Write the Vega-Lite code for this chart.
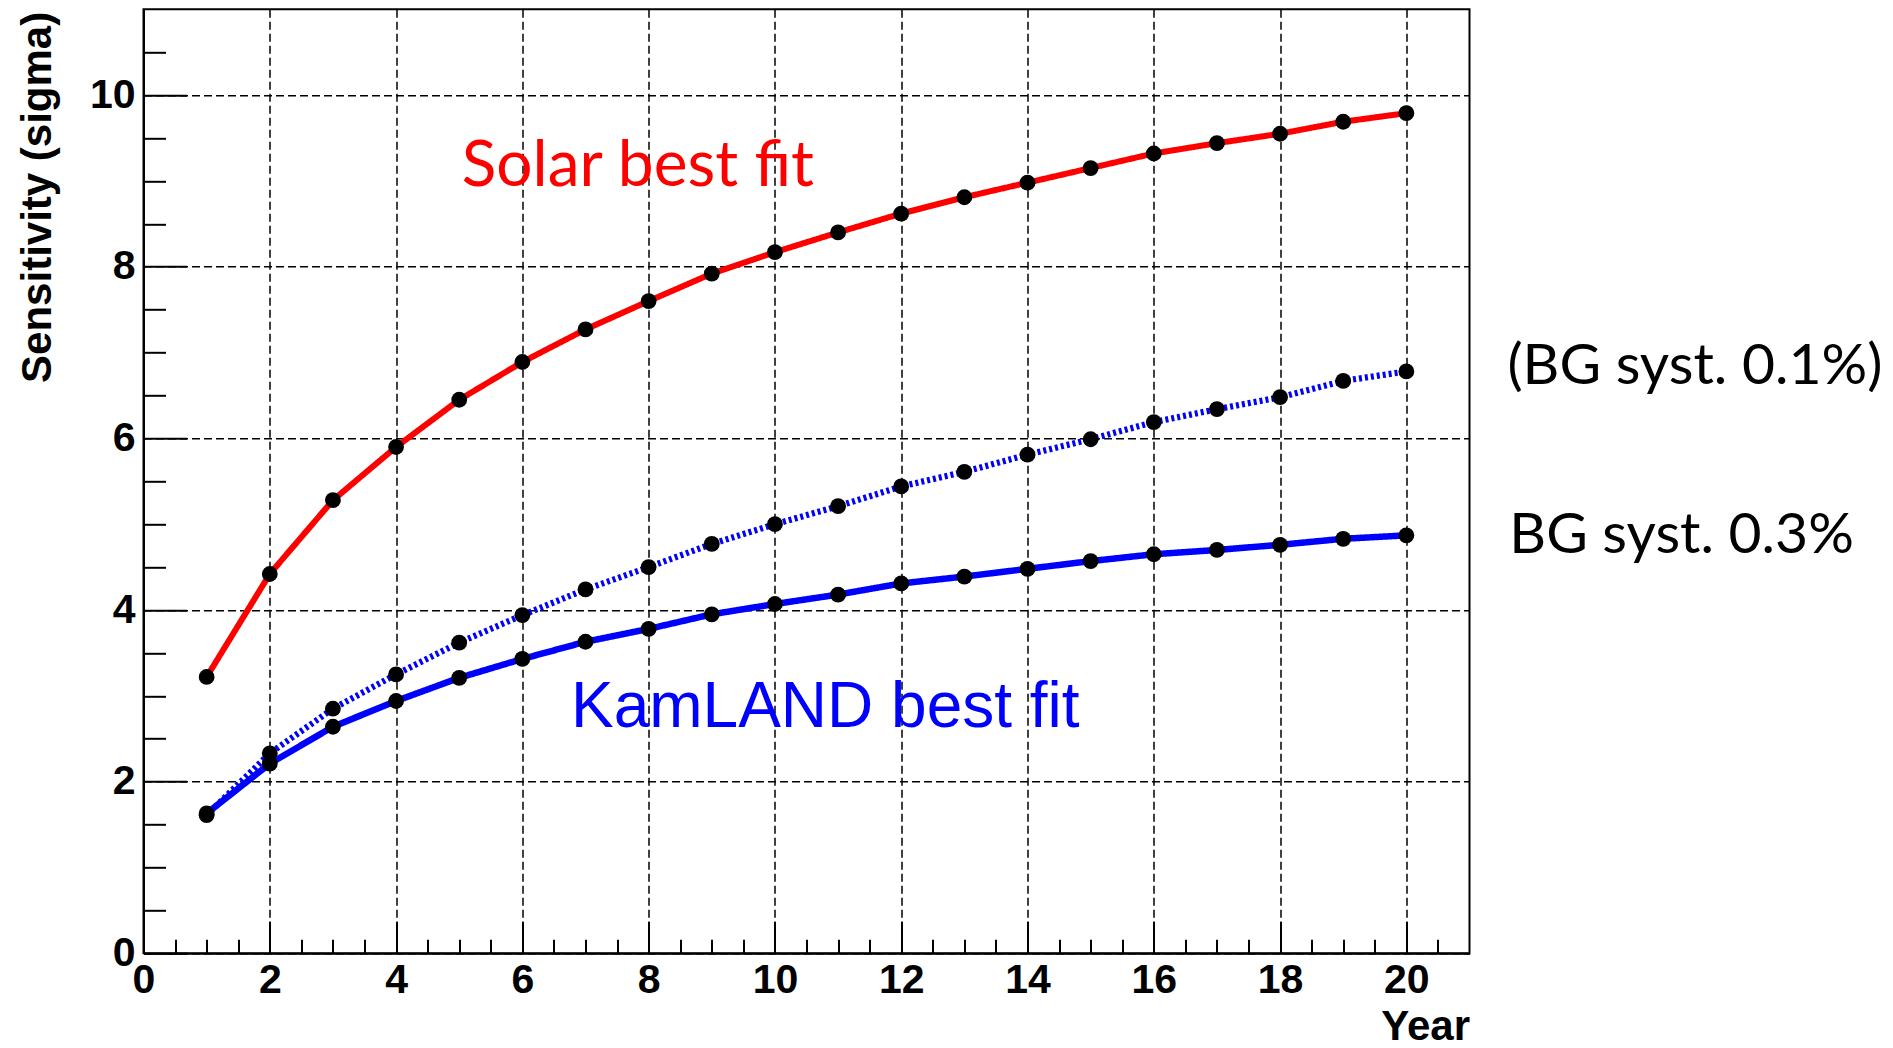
{
  "$schema": "https://vega.github.io/schema/vega-lite/v6.json",
  "width": 1326,
  "height": 944,
  "autosize": "none",
  "padding": {"left": 143.5, "top": 9.3, "right": 423.5, "bottom": 94.7},
  "background": "white",
  "config": {
    "view": {"stroke": "black", "strokeWidth": 2},
    "axis": {
      "domainColor": "black",
      "domainWidth": 2,
      "tickColor": "black",
      "tickWidth": 2,
      "gridColor": "black",
      "gridWidth": 1.5,
      "gridDash": [8, 4],
      "labelFont": "Liberation Sans",
      "labelFontWeight": "bold",
      "labelColor": "black",
      "titleFont": "Liberation Sans",
      "titleFontWeight": "bold",
      "titleColor": "black"
    }
  },
  "datasets": {
    "sensitivity": [
      {"series": "Solar best fit", "year": 1, "sigma": 3.22},
      {"series": "Solar best fit", "year": 2, "sigma": 4.42},
      {"series": "Solar best fit", "year": 3, "sigma": 5.28},
      {"series": "Solar best fit", "year": 4, "sigma": 5.90},
      {"series": "Solar best fit", "year": 5, "sigma": 6.45},
      {"series": "Solar best fit", "year": 6, "sigma": 6.89},
      {"series": "Solar best fit", "year": 7, "sigma": 7.27},
      {"series": "Solar best fit", "year": 8, "sigma": 7.60},
      {"series": "Solar best fit", "year": 9, "sigma": 7.92},
      {"series": "Solar best fit", "year": 10, "sigma": 8.17},
      {"series": "Solar best fit", "year": 11, "sigma": 8.40},
      {"series": "Solar best fit", "year": 12, "sigma": 8.62},
      {"series": "Solar best fit", "year": 13, "sigma": 8.81},
      {"series": "Solar best fit", "year": 14, "sigma": 8.98},
      {"series": "Solar best fit", "year": 15, "sigma": 9.15},
      {"series": "Solar best fit", "year": 16, "sigma": 9.32},
      {"series": "Solar best fit", "year": 17, "sigma": 9.44},
      {"series": "Solar best fit", "year": 18, "sigma": 9.55},
      {"series": "Solar best fit", "year": 19, "sigma": 9.69},
      {"series": "Solar best fit", "year": 20, "sigma": 9.79},
      {"series": "KamLAND, BG syst. 0.1%", "year": 1, "sigma": 1.61},
      {"series": "KamLAND, BG syst. 0.1%", "year": 2, "sigma": 2.33},
      {"series": "KamLAND, BG syst. 0.1%", "year": 3, "sigma": 2.85},
      {"series": "KamLAND, BG syst. 0.1%", "year": 4, "sigma": 3.25},
      {"series": "KamLAND, BG syst. 0.1%", "year": 5, "sigma": 3.62},
      {"series": "KamLAND, BG syst. 0.1%", "year": 6, "sigma": 3.94},
      {"series": "KamLAND, BG syst. 0.1%", "year": 7, "sigma": 4.24},
      {"series": "KamLAND, BG syst. 0.1%", "year": 8, "sigma": 4.50},
      {"series": "KamLAND, BG syst. 0.1%", "year": 9, "sigma": 4.77},
      {"series": "KamLAND, BG syst. 0.1%", "year": 10, "sigma": 5.00},
      {"series": "KamLAND, BG syst. 0.1%", "year": 11, "sigma": 5.21},
      {"series": "KamLAND, BG syst. 0.1%", "year": 12, "sigma": 5.44},
      {"series": "KamLAND, BG syst. 0.1%", "year": 13, "sigma": 5.61},
      {"series": "KamLAND, BG syst. 0.1%", "year": 14, "sigma": 5.81},
      {"series": "KamLAND, BG syst. 0.1%", "year": 15, "sigma": 5.99},
      {"series": "KamLAND, BG syst. 0.1%", "year": 16, "sigma": 6.19},
      {"series": "KamLAND, BG syst. 0.1%", "year": 17, "sigma": 6.34},
      {"series": "KamLAND, BG syst. 0.1%", "year": 18, "sigma": 6.48},
      {"series": "KamLAND, BG syst. 0.1%", "year": 19, "sigma": 6.67},
      {"series": "KamLAND, BG syst. 0.1%", "year": 20, "sigma": 6.78},
      {"series": "KamLAND, BG syst. 0.3%", "year": 1, "sigma": 1.63},
      {"series": "KamLAND, BG syst. 0.3%", "year": 2, "sigma": 2.21},
      {"series": "KamLAND, BG syst. 0.3%", "year": 3, "sigma": 2.64},
      {"series": "KamLAND, BG syst. 0.3%", "year": 4, "sigma": 2.94},
      {"series": "KamLAND, BG syst. 0.3%", "year": 5, "sigma": 3.21},
      {"series": "KamLAND, BG syst. 0.3%", "year": 6, "sigma": 3.43},
      {"series": "KamLAND, BG syst. 0.3%", "year": 7, "sigma": 3.63},
      {"series": "KamLAND, BG syst. 0.3%", "year": 8, "sigma": 3.78},
      {"series": "KamLAND, BG syst. 0.3%", "year": 9, "sigma": 3.95},
      {"series": "KamLAND, BG syst. 0.3%", "year": 10, "sigma": 4.07},
      {"series": "KamLAND, BG syst. 0.3%", "year": 11, "sigma": 4.18},
      {"series": "KamLAND, BG syst. 0.3%", "year": 12, "sigma": 4.31},
      {"series": "KamLAND, BG syst. 0.3%", "year": 13, "sigma": 4.39},
      {"series": "KamLAND, BG syst. 0.3%", "year": 14, "sigma": 4.48},
      {"series": "KamLAND, BG syst. 0.3%", "year": 15, "sigma": 4.57},
      {"series": "KamLAND, BG syst. 0.3%", "year": 16, "sigma": 4.65},
      {"series": "KamLAND, BG syst. 0.3%", "year": 17, "sigma": 4.70},
      {"series": "KamLAND, BG syst. 0.3%", "year": 18, "sigma": 4.76},
      {"series": "KamLAND, BG syst. 0.3%", "year": 19, "sigma": 4.83},
      {"series": "KamLAND, BG syst. 0.3%", "year": 20, "sigma": 4.87}
    ]
  },
  "resolve": {"axis": {"x": "independent", "y": "independent"}},
  "layer": [
    {
      "data": {"name": "sensitivity"},
      "mark": {"type": "line", "clip": true},
      "encoding": {
        "x": {
          "field": "year",
          "type": "quantitative",
          "scale": {"domain": [0, 21], "nice": false, "zero": false},
          "axis": {
            "orient": "bottom",
            "title": "Year",
            "titleFontSize": 42,
            "titleAlign": "right",
            "titleBaseline": "alphabetic",
            "titleAnchor": "end",
            "titleX": 1326,
            "titleY": 86,
            "values": [0, 2, 4, 6, 8, 10, 12, 14, 16, 18, 20],
            "format": ".0f",
            "labelFontSize": 41,
            "labelOverlap": false,
            "labelFlush": false,
            "labelPadding": 39,
            "tickSize": -32
          }
        },
        "y": {
          "field": "sigma",
          "type": "quantitative",
          "scale": {"domain": [0, 11], "nice": false, "zero": false},
          "axis": {
            "orient": "left",
            "title": "Sensitivity (sigma)",
            "titleFontSize": 42,
            "titleAngle": -90,
            "titleAlign": "right",
            "titleBaseline": "alphabetic",
            "titleX": -93,
            "titleY": 2,
            "values": [0, 2, 4, 6, 8, 10],
            "format": ".0f",
            "labelFontSize": 41,
            "labelOverlap": false,
            "labelFlush": false,
            "labelPadding": 51.5,
            "tickSize": -43
          }
        },
        "detail": {"field": "series"},
        "color": {
          "field": "series",
          "type": "nominal",
          "scale": {
            "domain": ["Solar best fit", "KamLAND, BG syst. 0.1%", "KamLAND, BG syst. 0.3%"],
            "range": ["#ff0000", "#0000ff", "#0000ff"]
          },
          "legend": null
        },
        "strokeDash": {
          "field": "series",
          "type": "nominal",
          "scale": {
            "domain": ["Solar best fit", "KamLAND, BG syst. 0.1%", "KamLAND, BG syst. 0.3%"],
            "range": [[1, 0], [3, 3], [1, 0]]
          },
          "legend": null
        },
        "strokeWidth": {
          "field": "series",
          "type": "nominal",
          "scale": {
            "domain": ["Solar best fit", "KamLAND, BG syst. 0.1%", "KamLAND, BG syst. 0.3%"],
            "range": [6, 6.5, 7]
          },
          "legend": null
        }
      }
    },
    {
      "data": {"name": "sensitivity"},
      "mark": {"type": "circle", "color": "black", "opacity": 1, "size": 250},
      "encoding": {
        "x": {
          "field": "year",
          "type": "quantitative",
          "axis": {
            "orient": "bottom",
            "title": null,
            "values": [0.5, 1, 1.5, 2.5, 3, 3.5, 4.5, 5, 5.5, 6.5, 7, 7.5, 8.5, 9, 9.5, 10.5, 11, 11.5, 12.5, 13, 13.5, 14.5, 15, 15.5, 16.5, 17, 17.5, 18.5, 19, 19.5, 20.5],
            "labels": false,
            "grid": false,
            "domain": false,
            "tickSize": -14
          }
        },
        "y": {
          "field": "sigma",
          "type": "quantitative",
          "axis": {
            "orient": "left",
            "title": null,
            "values": [0.5, 1, 1.5, 2.5, 3, 3.5, 4.5, 5, 5.5, 6.5, 7, 7.5, 8.5, 9, 9.5, 10.5],
            "labels": false,
            "grid": false,
            "domain": false,
            "tickSize": -22
          }
        }
      }
    },
    {
      "data": {"values": [{"label": "Solar best fit", "year": 5.04, "sigma": 8.94}]},
      "mark": {"type": "text", "font": "Lato", "fontSize": 64, "color": "#ff0000", "align": "left", "baseline": "alphabetic"},
      "encoding": {
        "x": {"field": "year", "type": "quantitative", "axis": null},
        "y": {"field": "sigma", "type": "quantitative", "axis": null},
        "text": {"field": "label"}
      }
    },
    {
      "data": {"values": [{"label": "KamLAND best fit", "year": 6.77, "sigma": 2.64}]},
      "mark": {"type": "text", "font": "Liberation Sans", "fontSize": 64, "color": "#0000ff", "align": "left", "baseline": "alphabetic"},
      "encoding": {
        "x": {"field": "year", "type": "quantitative", "axis": null},
        "y": {"field": "sigma", "type": "quantitative", "axis": null},
        "text": {"field": "label"}
      }
    },
    {
      "data": {"values": [
        {"label": "(BG syst. 0.1%)", "year": 21.6, "sigma": 6.63},
        {"label": "BG syst. 0.3%", "year": 21.63, "sigma": 4.67}
      ]},
      "mark": {"type": "text", "font": "Lato", "fontSize": 57, "color": "black", "align": "left", "baseline": "alphabetic"},
      "encoding": {
        "x": {"field": "year", "type": "quantitative", "axis": null},
        "y": {"field": "sigma", "type": "quantitative", "axis": null},
        "text": {"field": "label"}
      }
    }
  ]
}
